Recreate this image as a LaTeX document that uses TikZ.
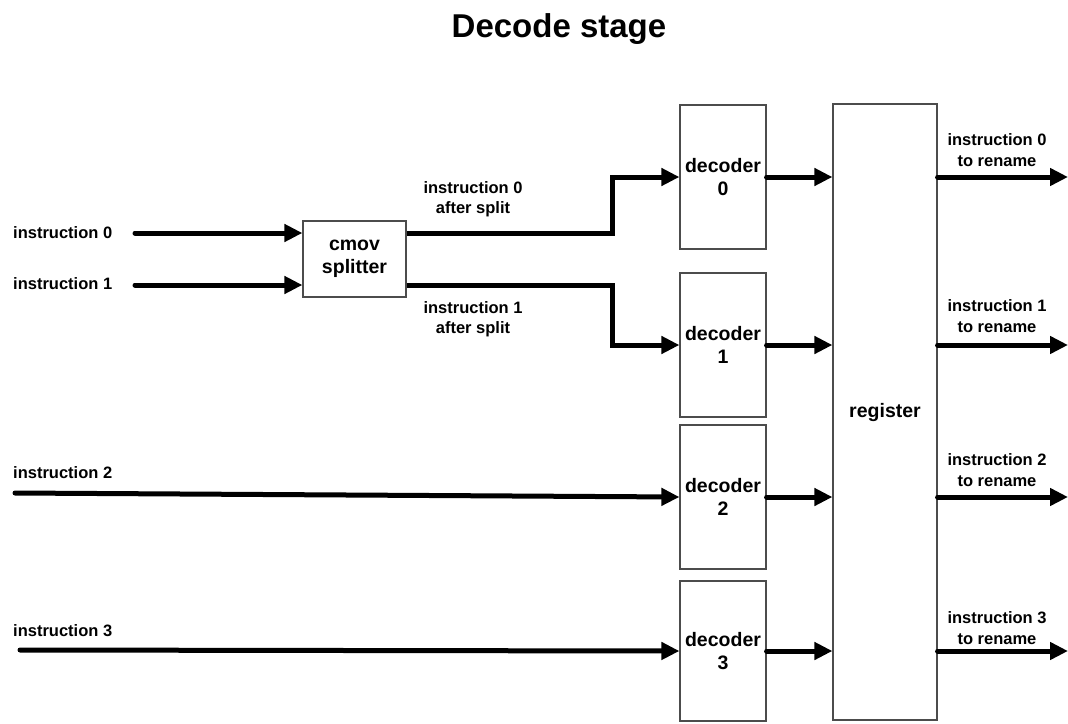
\documentclass[tikz,border=0pt]{standalone}
\usepackage{fontspec}
\setmainfont{Liberation Sans}
\usetikzlibrary{arrows.meta}
\begin{document}
\begin{tikzpicture}[x=1pt,y=-1pt,
  box/.style={draw=black!70, line width=1.2pt, fill=white, align=center, inner sep=0pt,
    font=\fontsize{19.5}{22.5}\selectfont\bfseries},
  lab/.style={align=center, inner sep=0pt, font=\fontsize{16.5}{20.5}\selectfont\bfseries},
  wire/.style={line width=5pt, line cap=round, -{Triangle[length=18pt,width=17pt]}},
]
\useasboundingbox (0,0) rectangle (1068,723);
\node[font=\fontsize{33}{36}\selectfont\bfseries] (title) at (559,29) {Decode stage};

% boxes
\node[box, minimum width=103pt, minimum height=76pt] (split) at (354.5,259) {cmov\\splitter};
\node[box, minimum width=86pt, minimum height=144pt] (dec0) at (723,177) {decoder\\0};
\node[box, minimum width=86pt, minimum height=144pt] (dec1) at (723,345) {decoder\\1};
\node[box, minimum width=86pt, minimum height=144pt] (dec2) at (723,497) {decoder\\2};
\node[box, minimum width=86pt, minimum height=140pt] (dec3) at (723,651) {decoder\\3};
\node[box, minimum width=104pt, minimum height=616pt] (reg) at (885,412) {register};

% input labels
\node[lab, anchor=west] (l0) at (13,233) {instruction 0};
\node[lab, anchor=west] (l1) at (13,284) {instruction 1};
\node[lab, anchor=west] (l2) at (13,473) {instruction 2};
\node[lab, anchor=west] (l3) at (13,631) {instruction 3};

\coordinate (i0) at (135,233);
\coordinate (i1) at (135,285);
\coordinate (i2) at (15,493);
\coordinate (i3) at (20,650);

\draw[wire] (i0) -- (i0 -| split.west);
\draw[wire] (i1) -- (i1 -| split.west);
\draw[wire] (i2) -- (dec2.west);
\draw[wire] (i3) -- (dec3.west);

% splitter outputs
\coordinate (b0) at (612,233);
\coordinate (b1) at (612,285);
\draw[wire, line cap=butt, line join=miter] (split.east |- b0) -- (b0) |- (dec0.west);
\draw[wire, line cap=butt, line join=miter] (split.east |- b1) -- (b1) |- (dec1.west);
\node[lab] (a0) at (473,199) {instruction 0\\after split};
\node[lab] (a1) at (473,319) {instruction 1\\after split};

% decoder to register
\foreach \d in {dec0,dec1,dec2,dec3}
  \draw[wire] (\d.east) -- (\d.east -| reg.west);

% register outputs
\coordinate (o0) at (1068,177);
\coordinate (o1) at (1068,345);
\coordinate (o2) at (1068,497);
\coordinate (o3) at (1068,651);
\foreach \o in {o0,o1,o2,o3}
  \draw[wire] (reg.east |- \o) -- (\o);

\node[lab] (r0) at (997,150) {instruction 0\\to rename};
\node[lab] (r1) at (997,316) {instruction 1\\to rename};
\node[lab] (r2) at (997,470) {instruction 2\\to rename};
\node[lab] (r3) at (997,628) {instruction 3\\to rename};
\end{tikzpicture}
\end{document}
